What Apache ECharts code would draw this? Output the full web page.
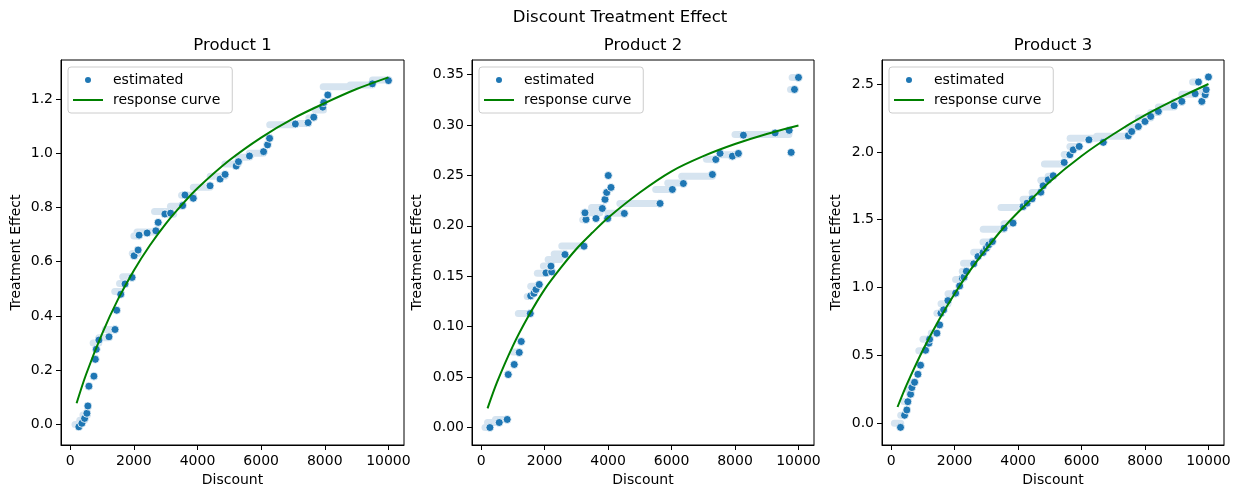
<!DOCTYPE html>
<html>
<head>
<meta charset="utf-8">
<script src="https://cdn.jsdelivr.net/npm/echarts@6/dist/echarts.min.js"></script>
<style>
html,body{margin:0;padding:0;background:#fff;}
#chart{width:1240px;height:498px;}
</style>
</head>
<body>
<div id="chart"></div>
<script>
// ---------------- data ----------------
const suptitle = 'Discount Treatment Effect';
const panelTitles = ['Product 1', 'Product 2', 'Product 3'];
const xTicks = [0, 2000, 4000, 6000, 8000, 10000];

// Product 1
const p1Ticks = [0.0, 0.2, 0.4, 0.6, 0.8, 1.0, 1.2];
const p1Points = [
  [271,-0.009],[366,0.004],[451,0.022],[524,0.041],[555,0.068],[587,0.141],[745,0.178],
  [789,0.240],[820,0.277],[902,0.311],[1218,0.323],[1407,0.350],[1461,0.421],[1587,0.480],
  [1722,0.518],[1943,0.542],[2007,0.622],[2133,0.643],[2164,0.698],[2417,0.706],[2691,0.714],
  [2764,0.745],[2975,0.776],[3155,0.779],[3533,0.807],[3606,0.846],[3868,0.834],[4394,0.880],
  [4710,0.905],[4867,0.922],[5215,0.953],[5287,0.969],[5634,0.990],[6076,1.006],[6202,1.031],
  [6265,1.055],[7076,1.108],[7476,1.113],[7653,1.133],[7937,1.170],[7968,1.187],[8095,1.215],
  [9495,1.256],[10000,1.268]
];
const p1Curve = [
  [200,0.078],[500,0.185],[1000,0.334],[1500,0.461],[2000,0.568],[2500,0.660],[3000,0.740],
  [3500,0.809],[4000,0.871],[5000,0.974],[6000,1.058],[7000,1.128],[8000,1.185],[9000,1.237],[10000,1.280]
];
const p1Streaks = [
  [150,300,0.0],[300,450,0.015],[400,540,0.035],[720,900,0.30],[900,1220,0.32],[1100,1400,0.35],
  [1400,1590,0.49],[1550,1720,0.52],[1650,1940,0.545],[1950,2130,0.63],[2000,2160,0.695],
  [2100,2690,0.71],[2650,3150,0.785],[2950,3250,0.775],[3150,3530,0.805],[3500,3870,0.845],
  [3870,4390,0.875],[4400,4860,0.915],[4860,5280,0.96],[5280,5630,0.985],[5630,6070,1.0],
  [6270,7070,1.105],[7070,7470,1.11],[7500,7650,1.13],[7700,7960,1.16],[7950,8800,1.245],
  [8800,9500,1.252],[9500,9990,1.27]
];

// Product 2
const p2Ticks = [0.00, 0.05, 0.10, 0.15, 0.20, 0.25, 0.30, 0.35];
const p2Points = [
  [274,0.000],[568,0.005],[820,0.008],[852,0.0525],[1041,0.0625],[1199,0.0744],[1262,0.0853],
  [1546,0.113],[1558,0.1305],[1662,0.133],[1726,0.1368],[1830,0.1418],[2041,0.1533],[2220,0.1543],
  [2199,0.160],[2640,0.1715],[3240,0.1797],[3303,0.2062],[3271,0.2128],[3618,0.2072],[3817,0.2171],
  [3902,0.2261],[3956,0.233],[4006,0.2498],[4091,0.238],[3987,0.2072],[4511,0.2122],[5637,0.2221],
  [6025,0.236],[6372,0.2419],[7287,0.2508],[7394,0.2657],[7530,0.2717],[7918,0.269],[8107,0.2717],
  [8265,0.2898],[9265,0.292],[9707,0.2945],[9770,0.2727],[9874,0.3351],[10000,0.347]
];
const p2Curve = [
  [200,0.019],[500,0.045],[1000,0.081],[1500,0.111],[2000,0.137],[2500,0.158],[3000,0.177],
  [3500,0.193],[4000,0.208],[5000,0.233],[6000,0.254],[7000,0.269],[8000,0.281],[9000,0.291],[10000,0.2994]
];
const p2Streaks = [
  [120,274,0.0],[200,568,0.005],[450,820,0.0079],[1000,1199,0.075],[1170,1546,0.113],
  [1450,1560,0.13],[1560,1830,0.14],[1770,2041,0.153],[1960,2200,0.160],[2110,2480,0.1666],
  [2300,2640,0.172],[2540,3240,0.18],[3200,3300,0.206],[3230,3740,0.2128],[3480,3820,0.218],
  [4000,4511,0.2125],[4370,5637,0.2221],[5500,6025,0.236],[5880,6372,0.2425],[6320,7287,0.249],
  [7100,7394,0.266],[7530,8107,0.2705],[8000,9700,0.2904],[9750,9900,0.335],[9800,10000,0.347]
];

// Product 3
const p3Ticks = [0.0, 0.5, 1.0, 1.5, 2.0, 2.5];
const p3Points = [
  [294,-0.030],[420,0.059],[493,0.098],[524,0.159],[610,0.214],[651,0.263],[736,0.302],[842,0.361],
  [925,0.428],[1083,0.538],[1188,0.590],[1210,0.619],[1440,0.664],[1526,0.725],[1567,0.811],
  [1652,0.836],[1788,0.904],[2031,0.959],[2157,1.012],[2243,1.069],[2294,1.077],[2369,1.120],
  [2600,1.175],[2736,1.229],[2894,1.258],[3000,1.290],[3073,1.315],[3190,1.339],[3557,1.438],
  [3841,1.475],[4157,1.597],[4283,1.622],[4441,1.654],[4716,1.703],[4789,1.750],[4947,1.794],
  [5105,1.824],[5452,1.922],[5632,1.979],[5737,2.015],[5926,2.040],[6232,2.089],[6685,2.070],
  [7474,2.119],[7580,2.150],[7790,2.187],[8000,2.224],[8180,2.261],[8421,2.298],[8917,2.340],
  [9160,2.372],[9580,2.428],[9685,2.515],[9791,2.372],[9896,2.421],[9927,2.458],[10000,2.552]
];
const p3Curve = [
  [200,0.12],[500,0.29],[1000,0.54],[1500,0.76],[2000,0.955],[2500,1.13],[3000,1.285],[3500,1.43],
  [4000,1.555],[5000,1.78],[6000,1.97],[7000,2.13],[8000,2.27],[9000,2.39],[10000,2.50]
];
const p3Streaks = [
  [100,300,0.0],[300,420,0.06],[400,520,0.16],[520,650,0.25],[620,740,0.30],[870,1083,0.535],
  [1000,1210,0.62],[1263,1440,0.665],[1440,1570,0.81],[1570,1790,0.88],[1790,2030,0.955],
  [2030,2240,1.06],[2240,2370,1.12],[2280,2600,1.18],[2600,2894,1.26],[2894,3190,1.335],
  [2900,3557,1.43],[3557,3841,1.47],[3460,4157,1.59],[4157,4441,1.65],[4441,4716,1.70],
  [4716,4947,1.79],[4947,5105,1.82],[4830,5452,1.91],[5452,5632,1.98],[5632,5926,2.04],
  [5640,6480,2.10],[6480,7474,2.115],[7474,7790,2.18],[7790,8180,2.25],[8180,8421,2.29],
  [8421,8917,2.33],[8917,9160,2.37],[9160,9580,2.425],[9500,9700,2.515],[9800,9930,2.44]
];

// ---------------- layout / style ----------------
const FONT = 'DejaVu Sans';
const panels = [
  {points:p1Points, curve:p1Curve, streaks:p1Streaks, ticks:p1Ticks, dec:1, yMin:-0.076, yMax:1.344,
   left:61, width:343, nameGap:38},
  {points:p2Points, curve:p2Curve, streaks:p2Streaks, ticks:p2Ticks, dec:2, yMin:-0.0173, yMax:0.3643,
   left:472, width:342, nameGap:48},
  {points:p3Points, curve:p3Curve, streaks:p3Streaks, ticks:p3Ticks, dec:1, yMin:-0.160, yMax:2.677,
   left:882, width:342, nameGap:39}
];
const TOP = 60, HEIGHT = 385;

const option = {
  animation: false,
  backgroundColor: '#fff',
  textStyle: {fontFamily: FONT},
  title: [{text: suptitle, left: 620, top: 9, textAlign: 'center', padding: 0,
           textStyle: {fontFamily: FONT, fontSize: 16.5, fontWeight: 'normal', color: '#000'}}],
  legend: [], grid: [], xAxis: [], yAxis: [], series: []
};

panels.forEach((p, i) => {
  option.grid.push({left: p.left, top: TOP, width: p.width, height: HEIGHT,
    show: true, borderColor: '#000', borderWidth: 1, backgroundColor: 'transparent', containLabel: false});
  option.title.push({text: panelTitles[i], left: p.left + p.width / 2, top: 37, textAlign: 'center', padding: 0,
    textStyle: {fontFamily: FONT, fontSize: 16.5, fontWeight: 'normal', color: '#000'}});
  option.xAxis.push({
    type: 'value', gridIndex: i, min: -290, max: 10490,
    name: 'Discount', nameLocation: 'middle', nameGap: 27,
    nameTextStyle: {fontFamily: FONT, fontSize: 14, color: '#000'},
    axisLine: {show: true, onZero: false, lineStyle: {color: '#000', width: 1}},
    axisTick: {show: true, inside: false, length: 5, lineStyle: {color: '#000'}, customValues: xTicks},
    axisLabel: {show: true, margin: 9, fontFamily: FONT, fontSize: 14, color: '#000', customValues: xTicks,
      formatter: v => String(Math.round(v))},
    splitLine: {show: false}
  });
  option.yAxis.push({
    type: 'value', gridIndex: i, min: p.yMin, max: p.yMax,
    name: 'Treatment Effect', nameLocation: 'middle', nameGap: p.nameGap, nameRotate: 90,
    nameTextStyle: {fontFamily: FONT, fontSize: 14, color: '#000'},
    axisLine: {show: true, onZero: false, lineStyle: {color: '#000', width: 1}},
    axisTick: {show: true, inside: false, length: 5, lineStyle: {color: '#000'}, customValues: p.ticks},
    axisLabel: {show: true, margin: 8, fontFamily: FONT, fontSize: 14, color: '#000', customValues: p.ticks,
      formatter: v => Number(v).toFixed(p.dec)},
    splitLine: {show: false}
  });
  option.legend.push({
    orient: 'vertical', left: p.left + 7, top: 67,
    padding: [6, 12, 6, 5], itemGap: 6, itemWidth: 30, itemHeight: 8,
    borderColor: '#cccccc', borderWidth: 1, borderRadius: 3, backgroundColor: 'rgba(255,255,255,0.8)',
    textStyle: {fontFamily: FONT, fontSize: 14, color: '#000', padding: [0, 0, 0, 5]},
    selectedMode: false,
    data: [
      {name: 'estimated', icon: 'circle'},
      {name: 'response curve', icon: 'path://M0,0H30V2H0Z'}
    ]
  });
  option.series.push({
    type: 'custom', name: 'streak' + i, xAxisIndex: i, yAxisIndex: i, z: 1,
    data: p.streaks, encode: {x: [0, 1], y: 2},
    renderItem: (params, api) => {
      const a = api.coord([api.value(0), api.value(2)]);
      const b = api.coord([api.value(1), api.value(2)]);
      return {type: 'line', shape: {x1: a[0], y1: a[1], x2: b[0], y2: b[1]},
        style: {stroke: '#d6e4f0', lineWidth: 7, lineCap: 'round'}};
    },
    silent: true
  });
  option.series.push({
    type: 'scatter', name: 'estimated', xAxisIndex: i, yAxisIndex: i, z: 3,
    data: p.points, symbolSize: 8,
    itemStyle: {color: '#1f77b4', borderColor: '#ffffff', borderWidth: 0.8, opacity: 1}
  });
  option.series.push({
    type: 'line', name: 'response curve', xAxisIndex: i, yAxisIndex: i, z: 4,
    data: p.curve, smooth: 0.3, showSymbol: false, symbol: 'none',
    lineStyle: {color: '#008000', width: 2}, itemStyle: {color: '#008000'}
  });
});

const chart = echarts.init(document.getElementById('chart'), null, {renderer: 'canvas'});
chart.setOption(option);
</script>
</body>
</html>
